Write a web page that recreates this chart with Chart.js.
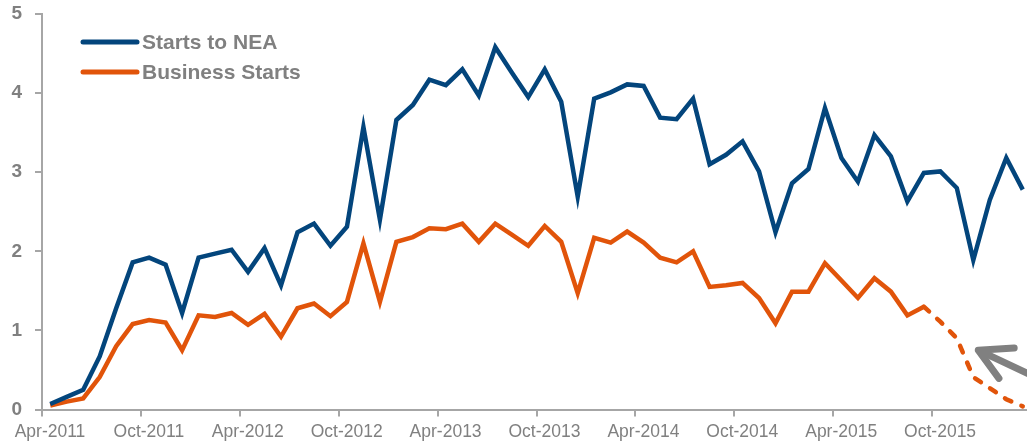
<!DOCTYPE html>
<html>
<head>
<meta charset="utf-8">
<title>Starts to NEA vs Business Starts</title>
<script src="https://cdn.jsdelivr.net/npm/chart.js@4.4.0/dist/chart.umd.min.js"></script>
<style>
  html, body { margin: 0; padding: 0; background: #fff; overflow: hidden; }
  #wrap { position: relative; width: 1036px; height: 445px; }
</style>
</head>
<body>
<div id="wrap"><canvas id="lineChart"></canvas></div>
<script>
const months = [
  'Apr-2011', 'May-2011', 'Jun-2011', 'Jul-2011', 'Aug-2011', 'Sep-2011', 'Oct-2011', 'Nov-2011', 'Dec-2011', 'Jan-2012', 'Feb-2012', 'Mar-2012',
  'Apr-2012', 'May-2012', 'Jun-2012', 'Jul-2012', 'Aug-2012', 'Sep-2012', 'Oct-2012', 'Nov-2012', 'Dec-2012', 'Jan-2013', 'Feb-2013', 'Mar-2013',
  'Apr-2013', 'May-2013', 'Jun-2013', 'Jul-2013', 'Aug-2013', 'Sep-2013', 'Oct-2013', 'Nov-2013', 'Dec-2013', 'Jan-2014', 'Feb-2014', 'Mar-2014',
  'Apr-2014', 'May-2014', 'Jun-2014', 'Jul-2014', 'Aug-2014', 'Sep-2014', 'Oct-2014', 'Nov-2014', 'Dec-2014', 'Jan-2015', 'Feb-2015', 'Mar-2015',
  'Apr-2015', 'May-2015', 'Jun-2015', 'Jul-2015', 'Aug-2015', 'Sep-2015', 'Oct-2015', 'Nov-2015', 'Dec-2015', 'Jan-2016', 'Feb-2016', 'Mar-2016'
];
const tickLabels = ['Apr-2011', 'Oct-2011', 'Apr-2012', 'Oct-2012', 'Apr-2013', 'Oct-2013', 'Apr-2014', 'Oct-2014', 'Apr-2015', 'Oct-2015'];

const startsToNea = [
  0.07, 0.16, 0.25, 0.67, 1.28, 1.86, 1.92, 1.83, 1.22, 1.92,
  1.97, 2.02, 1.74, 2.04, 1.57, 2.24, 2.35, 2.07, 2.31, 3.57,
  2.40, 3.66, 3.85, 4.17, 4.10, 4.30, 3.97, 4.58, 4.26, 3.95,
  4.30, 3.89, 2.69, 3.93, 4.01, 4.11, 4.09, 3.69, 3.67, 3.93,
  3.10, 3.22, 3.39, 3.01, 2.24, 2.86, 3.04, 3.81, 3.18, 2.88,
  3.47, 3.20, 2.63, 2.99, 3.01, 2.80, 1.89, 2.65, 3.18, 2.78
];
const businessStarts = [
  0.05, 0.10, 0.14, 0.41, 0.80, 1.08, 1.13, 1.10, 0.75, 1.19,
  1.17, 1.22, 1.07, 1.21, 0.92, 1.28, 1.34, 1.18, 1.36, 2.10,
  1.36, 2.12, 2.18, 2.29, 2.28, 2.35, 2.12, 2.35, 2.21, 2.07,
  2.32, 2.12, 1.47, 2.17, 2.11, 2.25, 2.11, 1.92, 1.86, 2.00,
  1.55, 1.57, 1.60, 1.41, 1.09, 1.49, 1.49, 1.85, 1.63, 1.41,
  1.66, 1.49, 1.19, 1.30, 1.11, 0.90, 0.41, 0.27, 0.13, 0.04
];
// business starts are dashed (estimate) from Sep-2015 on
const estimateFrom = months.indexOf('Sep-2015');

const fontFamily = '"Liberation Sans", Arial, Helvetica, sans-serif';
const textGrey = '#808080';
const axisGrey = '#a6a6a6';
const navy = '#03457c';
const orange = '#e1540a';

// each month is plotted in the middle of its slot
function toPoints(values) {
  return values.map((v, i) => ({ x: i + 0.5, y: v }));
}

const insideLegend = {
  id: 'insideLegend',
  afterDraw(chart) {
    const { ctx, chartArea } = chart;
    ctx.save();
    ctx.font = 'bold 21px ' + fontFamily;
    ctx.textBaseline = 'middle';
    ctx.lineCap = 'round';
    chart.data.datasets.forEach((ds, i) => {
      const y = chartArea.top + 28 + i * 30;
      const x0 = chartArea.left + 41;
      ctx.strokeStyle = ds.borderColor;
      ctx.lineWidth = 5;
      ctx.beginPath();
      ctx.moveTo(x0, y);
      ctx.lineTo(x0 + 54, y);
      ctx.stroke();
      ctx.fillStyle = textGrey;
      ctx.fillText(ds.label, x0 + 59, y + 1);
    });
    ctx.restore();
  }
};

// grey arrow pointing at the estimated part of the orange line
const estimateArrow = {
  id: 'estimateArrow',
  afterDatasetsDraw(chart) {
    const { ctx, scales: { x, y } } = chart;
    const tx = x.getPixelForValue(56.8);
    const ty = y.getPixelForValue(0.75);
    const dir = Math.atan2(23, 49);
    const spread = 0.5;
    ctx.save();
    ctx.strokeStyle = '#808080';
    ctx.lineCap = 'round';
    ctx.lineJoin = 'round';
    ctx.lineWidth = 7;
    ctx.beginPath();
    ctx.moveTo(tx + 4 * Math.cos(dir), ty + 4 * Math.sin(dir));
    ctx.lineTo(tx + 90 * Math.cos(dir), ty + 90 * Math.sin(dir));
    ctx.stroke();
    ctx.beginPath();
    ctx.moveTo(tx + 36 * Math.cos(dir - spread), ty + 36 * Math.sin(dir - spread));
    ctx.lineTo(tx, ty);
    ctx.lineTo(tx + 35 * Math.cos(dir + spread), ty + 35 * Math.sin(dir + spread));
    ctx.stroke();
    ctx.restore();
  }
};

const lineConfig = {
  type: 'line',
  data: {
    datasets: [
      {
        label: 'Starts to NEA',
        data: toPoints(startsToNea),
        borderColor: navy,
        borderWidth: 4.5,
        pointRadius: 0,
        tension: 0
      },
      {
        label: 'Business Starts',
        data: toPoints(businessStarts),
        borderColor: orange,
        borderWidth: 4.5,
        pointRadius: 0,
        tension: 0,
        segment: {
          borderDash: ctx => ctx.p0DataIndex >= estimateFrom ? [7, 11] : undefined,
          borderCapStyle: ctx => ctx.p0DataIndex >= estimateFrom ? 'round' : 'butt'
        }
      }
    ]
  },
  options: {
    responsive: true,
    maintainAspectRatio: false,
    animation: false,
    layout: { padding: { top: 14, right: 4, left: 0, bottom: 0 } },
    plugins: {
      legend: { display: false },
      tooltip: { enabled: false }
    },
    scales: {
      x: {
        type: 'linear',
        min: 0,
        max: 60,
        afterFit: scale => { scale.height = 35.5; },
        border: { display: true, color: axisGrey, width: 2 },
        grid: { drawOnChartArea: false, color: axisGrey, lineWidth: 2, tickLength: 7 },
        ticks: {
          stepSize: 6,
          autoSkip: false,
          maxRotation: 0,
          padding: 5,
          labelOffset: 8,
          color: textGrey,
          font: { family: fontFamily, size: 17.5 },
          callback: value => tickLabels[value / 6] || ''
        }
      },
      y: {
        min: 0,
        max: 5,
        afterFit: scale => {
          scale.width = 42;
          scale.paddingTop = 0;
          scale.paddingBottom = 0;
        },
        border: { display: true, color: axisGrey, width: 2 },
        grid: { drawOnChartArea: false, color: axisGrey, lineWidth: 2, tickLength: 7 },
        ticks: {
          stepSize: 1,
          padding: 13,
          color: textGrey,
          font: { family: fontFamily, size: 19, weight: 'bold' }
        }
      }
    }
  },
  plugins: [insideLegend, estimateArrow]
};

const lineChart = new Chart(document.getElementById('lineChart'), lineConfig);
</script>
</body>
</html>
